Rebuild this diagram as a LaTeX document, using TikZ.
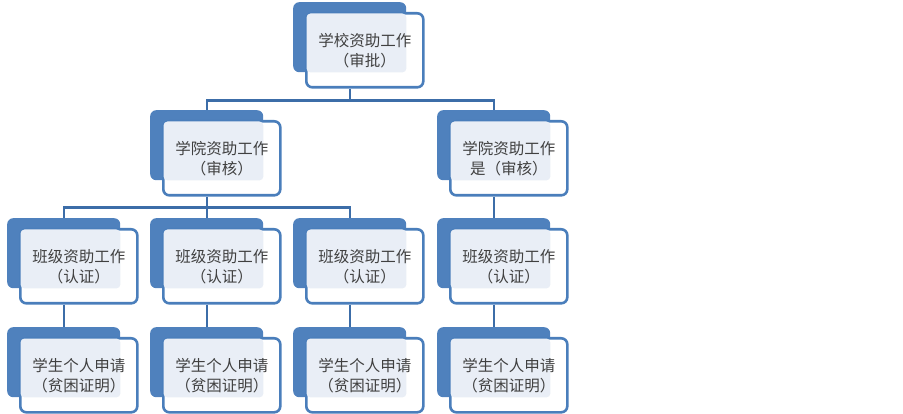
\documentclass[tikz,border=0pt]{standalone}
\usepackage{fontspec}
\newfontfamily\cjk{Noto Sans CJK SC}
\usetikzlibrary{calc}
\definecolor{backblue}{HTML}{4F81BD}
\definecolor{lineblue}{HTML}{3C6DA8}
\definecolor{framblue}{HTML}{4A7EBB}
\definecolor{lightfill}{HTML}{E9EEF6}
\definecolor{txtgray}{HTML}{404040}
\tikzset{
  backbox/.style={fill=backblue, rounded corners=6pt, minimum width=113pt, minimum height=70pt, anchor=north west, inner sep=0pt},
  frontbox/.style={draw=framblue, fill=white, line width=2.6pt, rounded corners=6pt, minimum width=117pt, minimum height=74pt, anchor=north west, inner sep=0pt},
  lightbox/.style={fill=lightfill, rounded corners=4pt},
  txt/.style={text=txtgray, font=\cjk\fontsize{15.5}{19.5}\selectfont, align=center, inner sep=0pt},
  conn/.style={draw=lineblue, line width=2.4pt}
}
\newcommand\orgbox[4]{%
  \node[backbox] (#1-b) at (#2,#3) {};
  \node[frontbox] (#1) at ($(#1-b.north west)+(12,10)$) {};
  \fill[lightbox] ($(#1.north west)+(1.5,1.5)$) rectangle (#1-b.south east);
  \node[txt] (#1-t) at ($(#1.center)+(0,0.5)$) {#4};
}
\begin{document}
\begin{tikzpicture}[x=1pt,y=-1pt]
\useasboundingbox (0,0) rectangle (903,414);
\orgbox{top}{293}{2}{学校资助工作\\（审批）}
\orgbox{ca}{150}{110}{学院资助工作\\（审核）}
\orgbox{cb}{437}{110}{学院资助工作\\是（审核）}
\orgbox{k1}{7}{218}{班级资助工作\\（认证）}
\orgbox{k2}{150}{218}{班级资助工作\\（认证）}
\orgbox{k3}{293}{218}{班级资助工作\\（认证）}
\orgbox{k4}{437}{218}{班级资助工作\\（认证）}
\orgbox{s1}{7}{327}{学生个人申请\\（贫困证明）}
\orgbox{s2}{150}{327}{学生个人申请\\（贫困证明）}
\orgbox{s3}{293}{327}{学生个人申请\\（贫困证明）}
\orgbox{s4}{437}{327}{学生个人申请\\（贫困证明）}
% connectors
\draw[conn] (top-b.center |- top.south) -- ++(0,12) coordinate (bar1);
\draw[conn] (bar1) -| (ca-b.north);
\draw[conn] (bar1) -| (cb-b.north);
\draw[conn] (ca-b.center |- ca.south) -- ++(0,11) coordinate (bar2);
\draw[conn] (bar2) -| (k1-b.north);
\draw[conn] (bar2) -| (k2-b.north);
\draw[conn] (bar2) -| (k3-b.north);
\draw[conn] (cb-b.center |- cb.south) -- (k4-b.north);
\draw[conn] (k1-b.center |- k1.south) -- (s1-b.north);
\draw[conn] (k2-b.center |- k2.south) -- (s2-b.north);
\draw[conn] (k3-b.center |- k3.south) -- (s3-b.north);
\draw[conn] (k4-b.center |- k4.south) -- (s4-b.north);
\end{tikzpicture}
\end{document}
